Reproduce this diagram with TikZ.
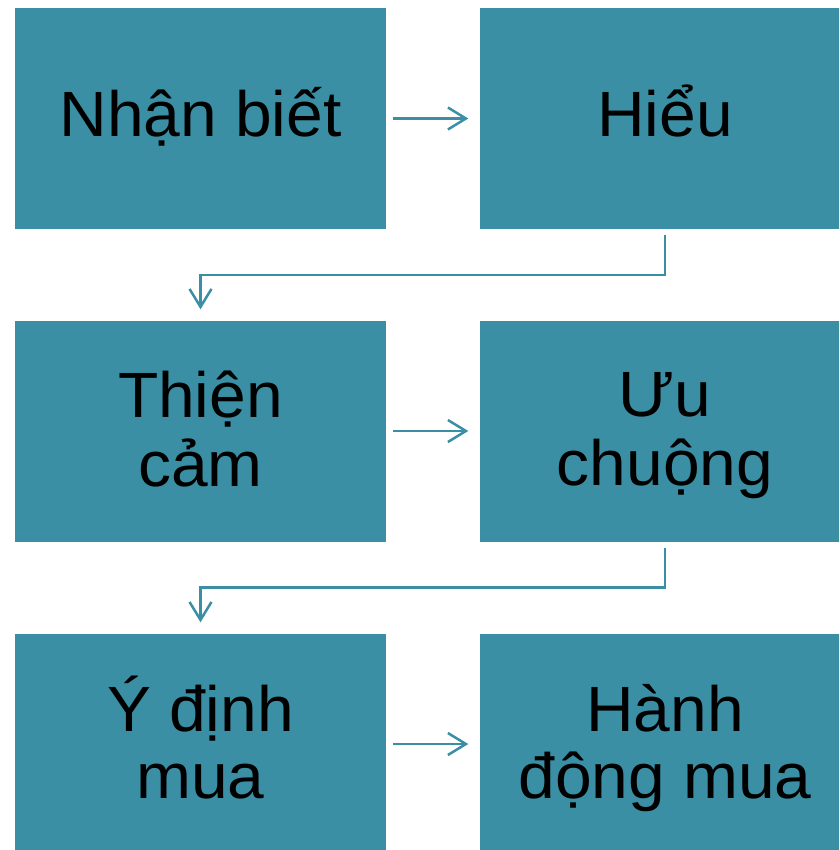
\documentclass[tikz,border=0pt]{standalone}
\usepackage{fontspec}
\setmainfont[FakeStretch=1.03]{Liberation Sans}
\usetikzlibrary{arrows.meta,calc}
\definecolor{teal}{RGB}{58,143,165}
\begin{document}
\begin{tikzpicture}[x=1pt,y=-1pt,
  stagebox/.style={fill=teal,draw=none,minimum width=371pt,minimum height=221pt,inner sep=0pt},
  caption/.style={anchor=base,inner sep=0pt,font=\fontsize{64}{69}\selectfont,text=black},
  flow/.style={draw=teal,line width=2.5pt,
    -{Straight Barb[length=18pt,width=22pt,line width=2.5pt]}}]
\useasboundingbox (0,0) rectangle (839,850);
\begin{scope}
\clip (0,0) rectangle (839,850);
% six stages in two columns
\node[stagebox] (b1) at (200.5,118.5) {};
\node[stagebox] (b2) at (665,118.5) {};
\node[stagebox] (b3) at (200.5,431) {};
\node[stagebox] (b4) at (665,431) {};
\node[stagebox] (b5) at (200.5,744) {};
\node[stagebox] (b6) at (665,744) {};
\end{scope}
% stage names, one line per node, placed on their baselines
\node[caption] (t1)  at ([yshift=-18pt]b1.center) {Nhận biết};
\node[caption] (t2)  at ([yshift=-18pt]b2.center) {Hiểu};
\node[caption] (t3a) at ([yshift=14pt]b3.center)  {Thiện};
\node[caption] (t3b) at ([yshift=-55pt]b3.center) {cảm};
\node[caption] (t4a) at ([yshift=15pt]b4.center)  {Ưu};
\node[caption] (t4b) at ([yshift=-54pt]b4.center) {chuộng};
\node[caption] (t5a) at ([yshift=13pt]b5.center)  {Ý định};
\node[caption] (t5b) at ([yshift=-54pt]b5.center) {mua};
\node[caption] (t6a) at ([yshift=13pt]b6.center)  {Hành};
\node[caption] (t6b) at ([yshift=-54pt]b6.center) {động mua};
% arrows within each row
\draw[flow,shorten <=7pt,shorten >=11pt] (b1.east) -- (b2.west);
\draw[flow,shorten <=7pt,shorten >=11pt] (b3.east) -- (b4.west);
\draw[flow,shorten <=7pt,shorten >=11pt] (b5.east) -- (b6.west);
% elbow arrows from one row to the next
\coordinate (m1) at ($(b2.south)!0.5!(b4.north)$);
\coordinate (m2) at ($(b4.south)!0.5!(b6.north)$);
\draw[flow,shorten <=6pt,shorten >=11pt] (b2.south) -- (m1) -| (b3.north);
\draw[flow,shorten <=6pt,shorten >=11pt] (b4.south) -- (m2) -| (b5.north);
\end{tikzpicture}
\end{document}
